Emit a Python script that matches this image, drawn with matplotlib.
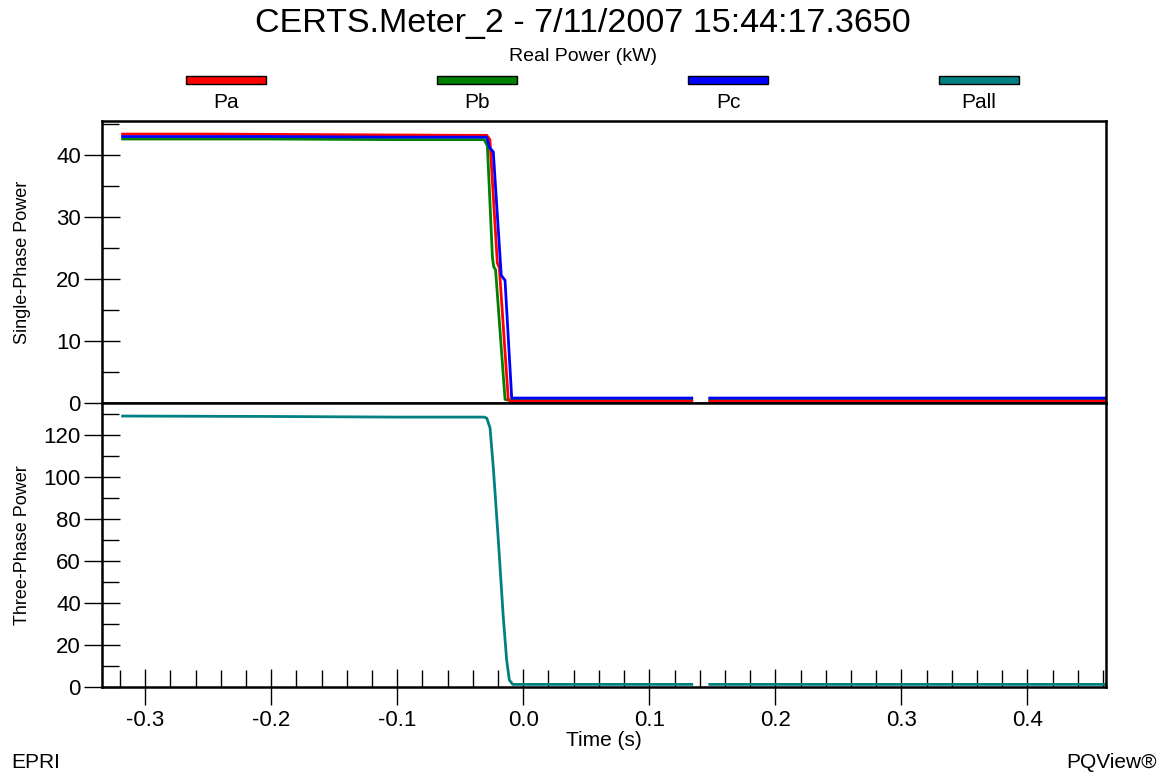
import matplotlib
matplotlib.use('Agg')
import matplotlib.pyplot as plt
import numpy as np
from matplotlib.ticker import MultipleLocator, FormatStrFormatter
from matplotlib.patches import Rectangle

plt.rcParams['font.family'] = ['Liberation Sans', 'DejaVu Sans']
plt.rcParams['axes.unicode_minus'] = False

nan = np.nan

# single-phase real power traces (kW), breakpoints along each trace
t_pa = [-0.318, -0.25, -0.15, -0.05, -0.029, -0.0265, -0.0206, -0.019, -0.0119, -0.010, 0.1337, nan, 0.148, 0.4624]
p_a = [43.4, 43.4, 43.3, 43.2, 43.2, 42.5, 22.6, 21.8, 0.5, 0.3, 0.3, nan, 0.3, 0.3]

t_pb = [-0.318, -0.2, -0.1, -0.031, -0.0285, -0.0245, -0.0235, -0.022, -0.0145, -0.013, 0.1337, nan, 0.148, 0.4624]
p_b = [42.6, 42.6, 42.5, 42.5, 41.5, 23.5, 22.0, 21.5, 0.6, 0.5, 0.5, nan, 0.5, 0.5]

t_pc = [-0.318, -0.2, -0.1, -0.029, -0.027, -0.0238, -0.0175, -0.0145, -0.0092, -0.008, 0.1337, nan, 0.148, 0.4624]
p_c = [43.0, 43.0, 42.9, 42.9, 41.3, 40.5, 20.6, 19.8, 0.8, 0.8, 0.8, nan, 0.8, 0.8]

# three-phase total
t_pall = [-0.318, -0.2, -0.1, -0.031, -0.029, -0.0264, -0.0238, -0.0198, -0.0159, -0.0132, -0.0111, -0.0084, 0.1337, nan, 0.148, 0.4624]
p_all = [128.8, 128.6, 128.3, 128.3, 127.8, 123.2, 104.3, 69.5, 33.2, 12.7, 3.2, 1.1, 1.1, nan, 1.1, 1.1]

names = ['Pa', 'Pb', 'Pc', 'Pall']
colors = ['#ff0000', '#008000', '#0000ff', '#008080']

fig = plt.figure(figsize=(11.66, 7.74), dpi=100)
ax1 = fig.add_axes([0.0872, 0.4793, 0.8613, 0.3643])
ax2 = fig.add_axes([0.0872, 0.1128, 0.8613, 0.3665], sharex=ax1)

ax1.plot(t_pb, p_b, color=colors[1], lw=2)
ax1.plot(t_pa, p_a, color=colors[0], lw=2)
ax1.plot(t_pc, p_c, color=colors[2], lw=2)
ax2.plot(t_pall, p_all, color=colors[3], lw=2)

ax1.set_xlim(-0.3346, 0.4624)
ax1.set_ylim(0, 45.5)
ax2.set_ylim(0, 135)

ax1.yaxis.set_major_locator(MultipleLocator(10))
ax1.yaxis.set_minor_locator(MultipleLocator(5))
ax2.yaxis.set_major_locator(MultipleLocator(20))
ax2.yaxis.set_minor_locator(MultipleLocator(10))
ax2.xaxis.set_major_locator(MultipleLocator(0.1))
ax2.xaxis.set_minor_locator(MultipleLocator(0.02))
ax2.xaxis.set_major_formatter(FormatStrFormatter('%.1f'))

for ax in (ax1, ax2):
    for s in ax.spines.values():
        s.set_linewidth(1.8)
    ax.tick_params(which='major', direction='inout', length=26, width=1, labelsize=16, pad=2)
    ax.tick_params(which='minor', direction='in', length=12, width=1)
    ax.tick_params(axis='x', top=False, pad=4)
    ax.tick_params(axis='y', right=False)
ax1.tick_params(axis='x', which='both', bottom=False, labelbottom=False)

ax1.set_ylabel('Single-Phase Power', fontsize=13)
ax2.set_ylabel('Three-Phase Power', fontsize=13)
for ax in (ax1, ax2):
    ax.yaxis.label.set_va('center')
    ax.yaxis.set_label_coords(-0.0784, 0.5)
ax2.set_xlabel('Time (s)', fontsize=15, labelpad=0)

fig.text(0.5, 0.970, 'CERTS.Meter_2 - 7/11/2007 15:44:17.3650', ha='center', va='center', fontsize=24.5)
fig.text(0.5, 0.927, 'Real Power (kW)', ha='center', va='center', fontsize=14)

# legend swatches across the top
for i, (name, c) in enumerate(zip(names, colors)):
    cx = (226 + 251 * i) / 1166
    fig.patches.append(Rectangle((cx - 0.0343, 0.891), 0.0686, 0.0103, transform=fig.transFigure,
                                 facecolor=c, edgecolor='black', lw=1))
    fig.text(cx, 0.867, name, ha='center', va='center', fontsize=15)

fig.text(0.010, 0.0078, 'EPRI', ha='left', va='baseline', fontsize=15)
fig.text(0.9923, 0.0078, 'PQView®', ha='right', va='baseline', fontsize=15)

fig.savefig('out.png', dpi=100)
